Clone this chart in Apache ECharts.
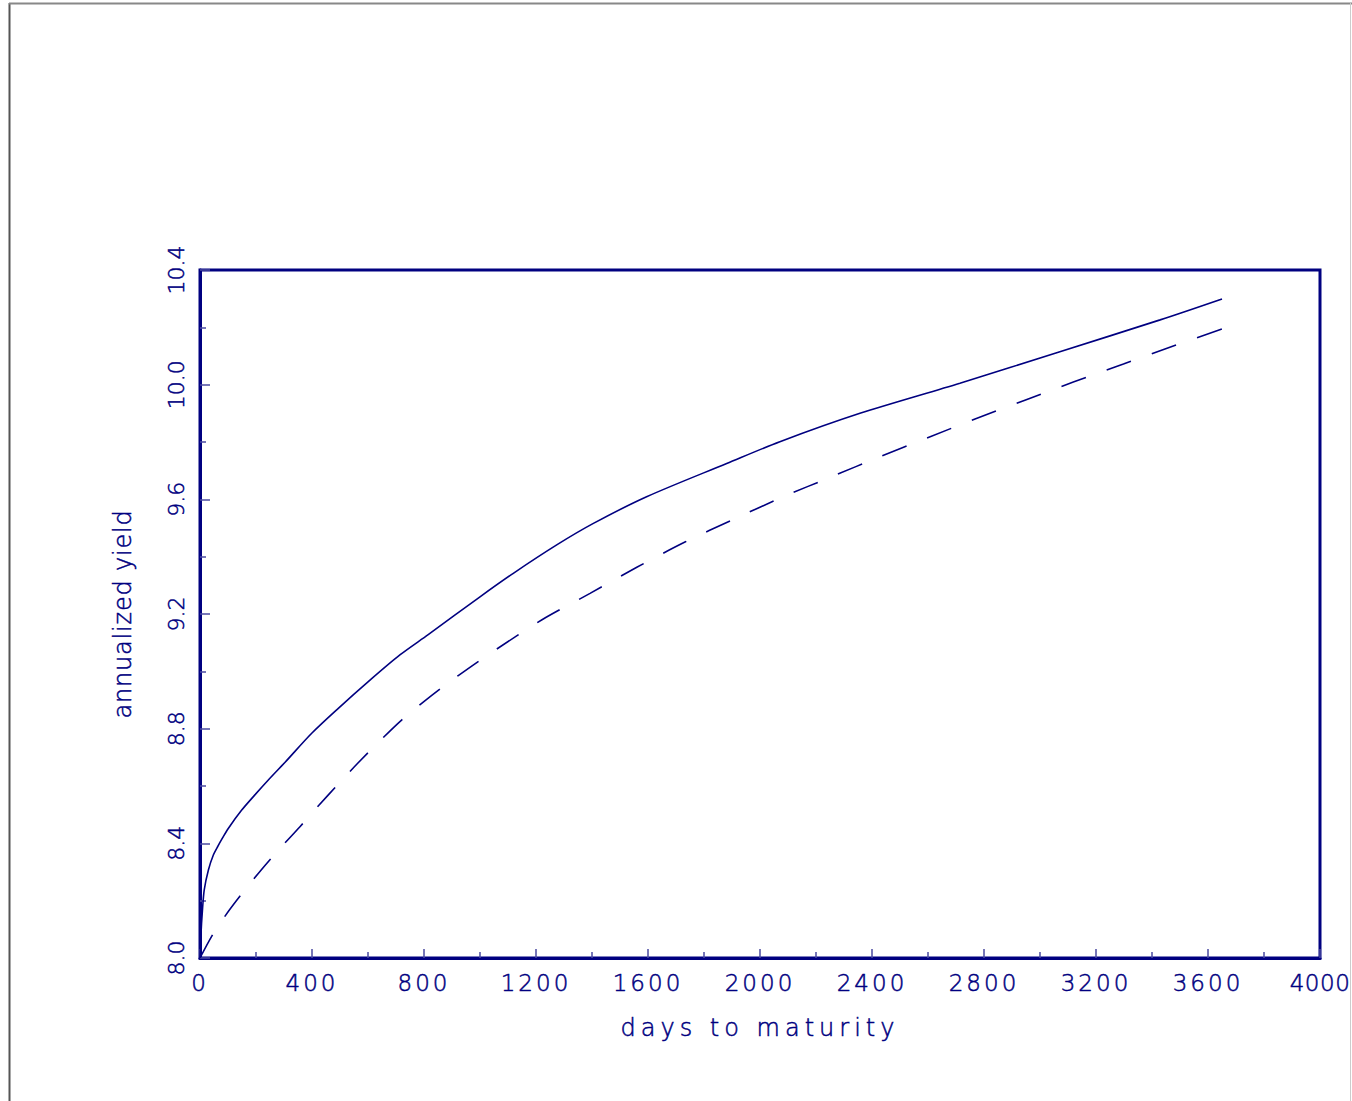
<!DOCTYPE html>
<html><head><meta charset="utf-8">
<script src="https://cdn.jsdelivr.net/npm/echarts@6/dist/echarts.min.js"></script>
<style>html,body{margin:0;padding:0;background:#fff;overflow:hidden;}#c{width:1352px;height:1101px;}</style>
</head><body><div id="c"></div>
<script>
const solidDays  = [0, 3.6, 8, 15, 30, 48, 65, 80, 101, 149, 196, 244, 304, 399, 494, 601, 715, 815, 1000, 1119, 1274, 1405, 1595, 1881, 2071, 2357, 2714, 3071, 3429, 3650];
const solidYield = [8.0, 8.086, 8.156, 8.237, 8.307, 8.36, 8.392, 8.418, 8.452, 8.516, 8.569, 8.621, 8.683, 8.784, 8.871, 8.964, 9.058, 9.128, 9.26, 9.342, 9.441, 9.516, 9.609, 9.725, 9.801, 9.90, 10.005, 10.115, 10.226, 10.299];
const dashDays  = [0, 48, 101, 155, 220, 286, 357, 423, 494, 565, 643, 720, 804, 881, 964, 1054, 1220, 1393, 1560, 1732, 1905, 2083, 2256, 2429, 2601, 2768, 2946, 3119, 3298, 3476, 3650];
const dashYield = [8.0, 8.086, 8.162, 8.231, 8.309, 8.383, 8.458, 8.531, 8.607, 8.681, 8.758, 8.83, 8.898, 8.956, 9.014, 9.074, 9.179, 9.272, 9.363, 9.451, 9.530, 9.609, 9.679, 9.749, 9.816, 9.880, 9.946, 10.009, 10.072, 10.135, 10.194];
const xRange = [0, 4000], xStep = 400;
const yRange = [8.0, 10.4], yStep = 0.4;
const xTitle = 'days to maturity';
const yTitle = 'annualized yield';

const navy = '#000080';
const textColor = '#000080';
const tickColor = '#4a4aa0';
const font = 'DejaVu Sans';
const txt = {color: textColor, fontFamily: font, fontWeight: 200, textBorderColor: textColor, textBorderWidth: 0.5};

const chart = echarts.init(document.getElementById('c'), null, {renderer: 'svg'});
chart.setOption({
  animation: false,
  backgroundColor: '#fff',
  graphic: [
    {type: 'line', shape: {x1: 9.5, y1: 3, x2: 9.5, y2: 1101}, style: {stroke: '#555', lineWidth: 2}},
    {type: 'line', shape: {x1: 9, y1: 3.5, x2: 1352, y2: 3.5}, style: {stroke: '#888', lineWidth: 2}},
    {type: 'line', shape: {x1: 1350.5, y1: 3, x2: 1350.5, y2: 1101}, style: {stroke: '#ccc', lineWidth: 1}}
  ],
  grid: {left: 200, right: 32, top: 270, bottom: 143, show: true, borderColor: navy, borderWidth: 3,
    backgroundColor: 'transparent', outerBoundsMode: 'none', containLabel: false},
  xAxis: {
    type: 'value', min: xRange[0], max: xRange[1], interval: xStep,
    axisLine: {show: true, lineStyle: {color: navy, width: 3}},
    axisTick: {show: true, inside: true, length: 9, lineStyle: {color: tickColor, width: 1.5}},
    minorTick: {show: true, splitNumber: 2, length: 6, lineStyle: {color: tickColor, width: 1.5}},
    splitLine: {show: false},
    axisLabel: Object.assign({}, txt, {fontSize: 23, margin: 13, formatter: v => String(v)}),
    name: xTitle, nameLocation: 'middle', nameGap: 58,
    nameTextStyle: Object.assign({}, txt, {fontSize: 24})
  },
  yAxis: {
    type: 'value', min: yRange[0], max: yRange[1], interval: yStep,
    axisLine: {show: true, lineStyle: {color: navy, width: 3}},
    axisTick: {show: true, inside: true, length: 10, lineStyle: {color: tickColor, width: 1.5}},
    minorTick: {show: true, splitNumber: 2, length: 6, lineStyle: {color: tickColor, width: 1.5}},
    splitLine: {show: false},
    axisLabel: Object.assign({}, txt, {fontSize: 22, margin: 13, rotate: 90, formatter: v => v.toFixed(1)}),
    name: yTitle, nameLocation: 'middle', nameGap: 65, nameRotate: 90,
    nameTextStyle: Object.assign({}, txt, {fontSize: 24})
  },
  series: [
    {type: 'line', data: solidDays.map((d, i) => [d, solidYield[i]]), showSymbol: false, smooth: 0.3,
      lineStyle: {color: navy, width: 1.6, type: 'solid'}},
    {type: 'line', data: dashDays.map((d, i) => [d, dashYield[i]]), showSymbol: false, smooth: 0.3,
      lineStyle: {color: navy, width: 1.6, type: [26, 22]}}
  ]
});
function spaceText(){
  document.querySelectorAll('#c svg text').forEach(t => {
    const s = (t.textContent || '').trim();
    if (s === xTitle) t.style.letterSpacing = '5px';
    else if (s === yTitle) t.style.letterSpacing = '0.8px';
    else if (s === String(xRange[1])) t.style.letterSpacing = '0.5px';
    else if (/^\d+$/.test(s)) t.style.letterSpacing = '3px';
  });
}
chart.on('finished', spaceText);
spaceText();
setTimeout(spaceText, 0);
</script>
</body></html>
